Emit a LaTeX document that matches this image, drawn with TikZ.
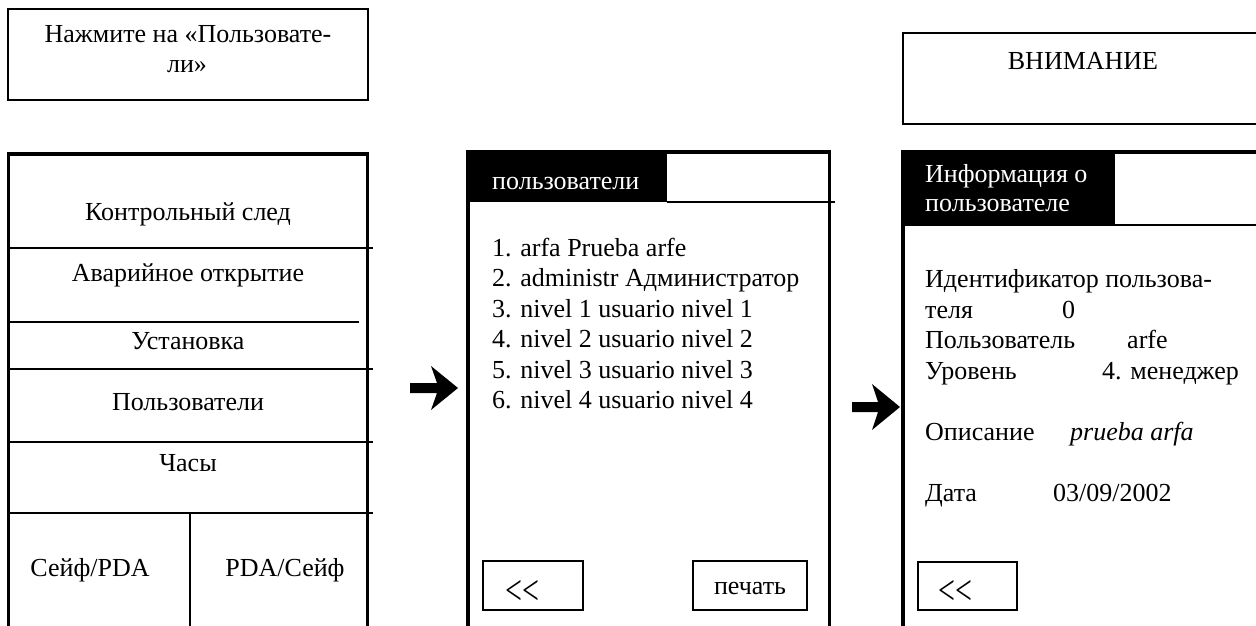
\documentclass[tikz,border=0pt]{standalone}
\usepackage{graphicx}
\usepackage{fontspec}
\setmainfont{Liberation Serif}
\newcommand{\backsym}{\scalebox{1}[1.4]{\fontsize{30}{30}\selectfont <\kern0pt<}}
\tikzset{
  lnthin/.style={line width=1.5pt},
  lnthick/.style={line width=3.5pt},
  txt/.style={inner sep=0pt, anchor=base, font=\fontsize{26}{30.5}\selectfont},
  txtl/.style={txt, anchor=base west},
  wtxt/.style={txtl, text=white},
  blockarrow/.style={fill=black},
}
\begin{document}
\begin{tikzpicture}[x=1pt,y=-1pt]
\useasboundingbox (0,0) rectangle (1256,626);
\clip (0,0) rectangle (1256,626);
% ---------- left column ----------
\draw[lnthin] (8,9) rectangle (368,100);
\node[txt] (hint1) at (188,43) {Нажмите на «Пользовате-};
\node[txt] (hint2) at (187,73) {ли»};
\draw[lnthick] (8.5,640) -- (8.5,154) -- (367.5,154) -- (367.5,640);
\draw[lnthin] (9,248) -- (373,248);
\draw[lnthin] (9,322) -- (359,322);
\draw[lnthin] (9,369) -- (373,369);
\draw[lnthin] (9,442) -- (373,442);
\draw[lnthin] (9,513) -- (373,513);
\draw[lnthin] (190,513) -- (190,640);
\node[txt] (m1) at (188,220) {Контрольный след};
\node[txt] (m2) at (188,281) {Аварийное открытие};
\node[txt] (m3) at (188,349) {Установка};
\node[txt] (m4) at (188,410) {Пользователи};
\node[txt] (m5) at (188,471) {Часы};
\node[txt] (m6) at (90,576) {Сейф/PDA};
\node[txt] (m7) at (285,576) {PDA/Сейф};
% ---------- arrow 1 ----------
\fill[blockarrow] (410,383) -- (437,383) -- (431,366) -- (458,388) -- (431,410) -- (437,393) -- (410,393) -- cycle;
% ---------- middle column ----------
\fill (468,152) rectangle (667,202);
\draw[lnthick] (468,640) -- (468,152) -- (829.5,152) -- (829.5,640);
\draw[lnthin] (667,202) -- (835,202);
\node[wtxt] (utitle) at (492,189) {пользователи};
\node[txtl] (u1) at (492,256) {1. arfa Prueba arfe};
\node[txtl] (u2) at (492,286.5) {2. administr Администратор};
\node[txtl] (u3) at (492,317) {3. nivel 1 usuario nivel 1};
\node[txtl] (u4) at (492,347.5) {4. nivel 2 usuario nivel 2};
\node[txtl] (u5) at (492,378) {5. nivel 3 usuario nivel 3};
\node[txtl] (u6) at (492,408.5) {6. nivel 4 usuario nivel 4};
\draw[lnthin] (483,561) rectangle (583,610);
\node[txtl] (back1) at (505,604) {\backsym};
\draw[lnthin] (693,561) rectangle (807,610);
\node[txt] (print) at (750,594) {печать};
% ---------- arrow 2 ----------
\fill[blockarrow] (852,402) -- (878,402) -- (872,384) -- (900,407) -- (872,430) -- (878,412) -- (852,412) -- cycle;
% ---------- right column ----------
\draw[lnthin] (1260,33) -- (903,33) -- (903,124) -- (1260,124);
\node[txt] (warn) at (1083,70) {ВНИМАНИЕ};
\fill (903,152) rectangle (1115,226);
\draw[lnthick] (903,640) -- (903,152) -- (1260,152);
\draw[lnthin] (1115,225) -- (1260,225);
\node[wtxt] (itl1) at (925,182) {Информация о};
\node[wtxt] (itl2) at (925,211) {пользователе};
\node[txtl] (l1) at (925,287.5) {Идентификатор пользова-};
\node[txtl] (l2) at (925,318) {теля};
\node[txtl] (v2) at (1062,318) {0};
\node[txtl] (l3) at (925,348.5) {Пользователь};
\node[txtl] (v3) at (1127,348.5) {arfe};
\node[txtl] (l4) at (925,379) {Уровень};
\node[txtl] (v4) at (1102,379) {4. менеджер};
\node[txtl] (l5) at (925,440) {Описание};
\node[txtl] (v5) at (1070,440) {\itshape prueba arfa};
\node[txtl] (l6) at (925,501) {Дата};
\node[txtl] (v6) at (1053,501) {03/09/2002};
\draw[lnthin] (918,562) rectangle (1017,610);
\node[txtl] (back2) at (938,604) {\backsym};
\end{tikzpicture}
\end{document}
